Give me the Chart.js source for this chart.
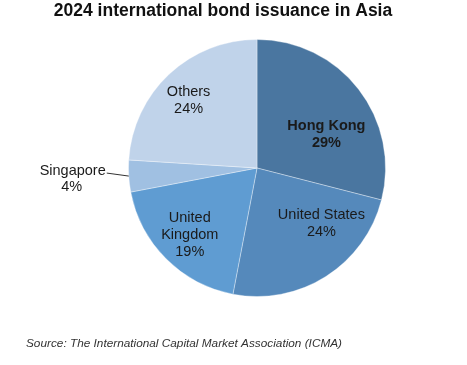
<!DOCTYPE html>
<html>
<head>
<meta charset="utf-8">
<script src="https://cdn.jsdelivr.net/npm/chart.js@4/dist/chart.umd.min.js"></script>
<style>
html,body{margin:0;padding:0;background:#fff;}
#wrap{position:relative;width:467px;height:365px;}
</style>
</head>
<body>
<div id="wrap"><canvas id="pieChart" width="467" height="365"></canvas></div>
<script>
// chart data
var regions=["Hong Kong","United States","United Kingdom","Singapore","Others"];
var shares=[29,24,19,4,24];
var labelLines=[["Hong Kong","29%"],["United States","24%"],["United","Kingdom","19%"],["Singapore","4%"],["Others","24%"]];
var sliceColors=["#4a76a0","#5589bb","#5f9cd2","#a0c0e2","#c0d3ea"];

var titleText="2024 international bond issuance in Asia";
var sourceText="Source: The International Capital Market Association (ICMA)";

// label placement: [radius fraction, angle shift in degrees] per slice, null = outside label
var labelPlace=[[0.6,12],[0.66,-17],[0.74,0],null,[0.75,-2]];

var textPlugin={
	id:"textPlugin",
	afterDraw:function(chart){
		var ctx=chart.ctx;
		var meta=chart.getDatasetMeta(0);
		ctx.save();
		// title
		ctx.fillStyle="#111";
		ctx.font="bold 17.5px 'Liberation Sans', Arial, sans-serif";
		ctx.textAlign="center";
		ctx.textBaseline="middle";
		ctx.fillText(titleText,223,11);
		// source
		ctx.font="italic 11.8px 'Liberation Sans', Arial, sans-serif";
		ctx.fillStyle="#333";
		ctx.textAlign="left";
		ctx.fillText(sourceText,26,344);

		for(var k=0;k<meta.data.length;k++){
			var arc=meta.data[k];
			var mid=(arc.startAngle+arc.endAngle)/2;
			var lines=labelLines[k];
			ctx.fillStyle="#1a1a1a";
			if(labelPlace[k]){
				var a=mid+labelPlace[k][1]*Math.PI/180;
				var r=arc.outerRadius*labelPlace[k][0];
				var x=arc.x+Math.cos(a)*r;
				var y=arc.y+Math.sin(a)*r;
				ctx.font=(k==0?"bold ":"")+"14.5px 'Liberation Sans', Arial, sans-serif";
				ctx.textAlign="center";
				var lh=17;
				var y0=y-(lines.length-1)*lh/2;
				for(var j=0;j<lines.length;j++){
					ctx.fillText(lines[j],x,y0+j*lh);
				}
			}else{
				// outside label with leader line
				var ex=arc.x+Math.cos(mid)*arc.outerRadius;
				var ey=arc.y+Math.sin(mid)*arc.outerRadius;
				ctx.strokeStyle="#333";
				ctx.lineWidth=1;
				ctx.beginPath();
				ctx.moveTo(ex,ey);
				ctx.lineTo(ex-22,ey-3);
				ctx.stroke();
				ctx.font="14.5px 'Liberation Sans', Arial, sans-serif";
				ctx.textAlign="right";
				ctx.fillText(lines[0],ex-23,ey-5);
				ctx.textAlign="center";
				ctx.fillText(lines[1],ex-57,ey+11);
			}
		}
		ctx.restore();
	}
};

new Chart(document.getElementById("pieChart").getContext("2d"),{
	type:"pie",
	data:{
		labels:regions,
		datasets:[{
			data:shares,
			backgroundColor:sliceColors,
			borderColor:"rgba(255,255,255,0.35)",
			borderWidth:1
		}]
	},
	options:{
		responsive:false,
		animation:false,
		layout:{padding:{left:128,right:81,top:39,bottom:68}},
		plugins:{
			legend:{display:false},
			tooltip:{enabled:false},
			title:{display:false}
		}
	},
	plugins:[textPlugin]
});
</script>
</body>
</html>
